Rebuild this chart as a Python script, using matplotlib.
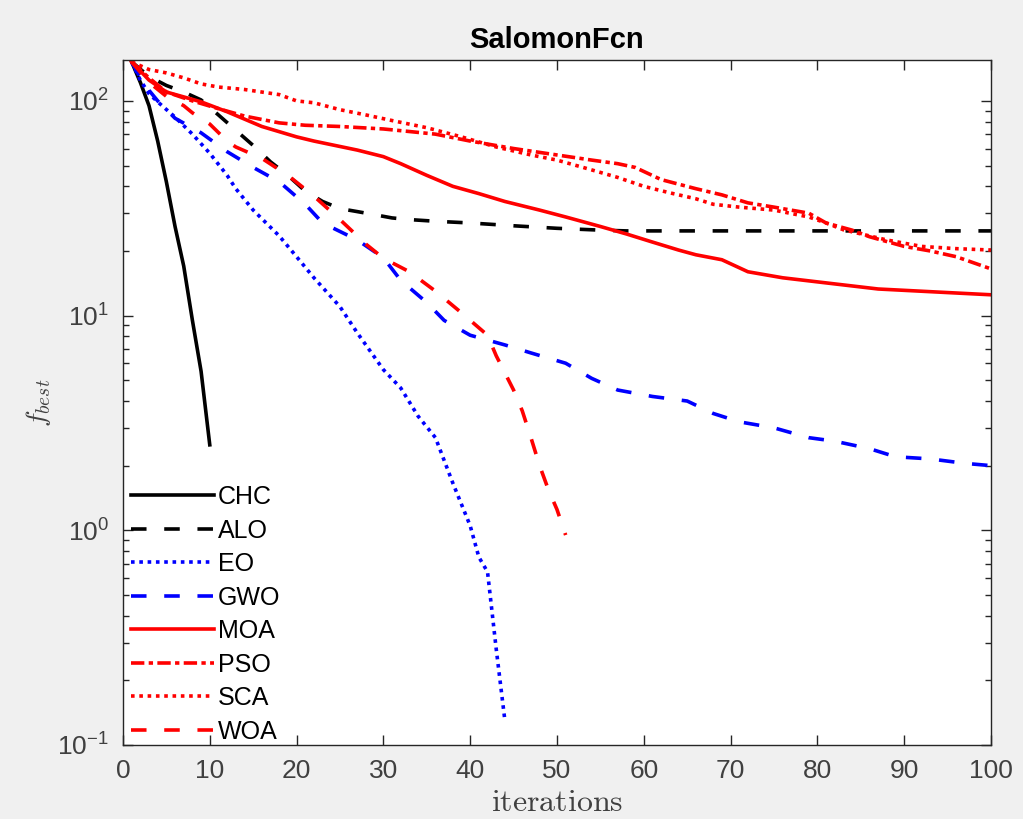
## convergence curves, SalomonFcn, log scale

import matplotlib
matplotlib.use("Agg")
import matplotlib.pyplot as plt
from matplotlib.ticker import LogLocator, NullFormatter, FixedLocator

plt.rcParams['font.family'] = ['Liberation Sans', 'DejaVu Sans']
plt.rcParams['mathtext.fontset'] = 'cm'

# values (iteration, best fitness)
chc_x = [1, 2, 3, 4, 5, 6, 7, 8, 9, 10]
chc_y = [152, 122, 95, 65, 42, 26, 17, 9.5, 5.5, 2.5]

alo_x = [1, 3, 5, 7, 9, 11, 13, 15, 17, 19, 21, 23, 25, 27, 29, 31, 33, 36, 40, 45, 50, 55, 58, 100]
alo_y = [152, 130, 118, 110, 101, 86, 73, 62, 52, 45, 38, 34, 31.5, 30.5, 29.5, 28.5, 28, 27.5, 27, 26.2, 25.5, 25, 24.8, 24.8]

eo_x = [1, 2, 3, 4, 6, 8, 10, 12, 13, 15, 18, 20, 22, 25, 27, 30, 32, 34, 36, 38, 40, 41, 42, 43, 44]
eo_y = [152, 125, 108, 99, 84, 70, 57, 45, 39, 31, 23.5, 18.8, 15, 11, 8.3, 5.6, 4.6, 3.4, 2.7, 1.66, 1.05, 0.75, 0.64, 0.28, 0.13]

gwo_x = [1, 2, 3, 4, 6, 9, 12, 15, 18, 21, 23, 27, 30, 32, 35, 37, 40, 44, 47, 51, 54, 57, 61, 65, 68, 71, 75, 79, 82, 86, 89, 93, 97, 100]
gwo_y = [152, 128, 112, 100, 83, 71, 58, 49, 42, 33, 27, 22.5, 18.6, 14.6, 11.5, 9.5, 8.1, 7.3, 6.7, 6.0, 5.1, 4.5, 4.2, 4.0, 3.5, 3.2, 3.0, 2.7, 2.6, 2.4, 2.2, 2.15, 2.05, 2.0]

moa_x = [1, 3, 5, 9, 12, 16, 20, 22, 27, 30, 32, 35, 38, 41, 44, 48, 51, 55, 58, 61, 64, 66, 69, 72, 76, 81, 87, 95, 100]
moa_y = [152, 125, 110, 99, 89, 76, 68, 65, 59, 55, 51, 45, 40, 37, 34, 31, 28.8, 26, 24, 22, 20.2, 19.2, 18.2, 16, 15, 14.2, 13.3, 12.8, 12.5]

pso_x = [1, 3, 5, 8, 11, 14, 18, 21, 25, 30, 33, 36, 40, 45, 50, 54, 57, 59, 62, 66, 69, 72, 75, 79, 81, 84, 86, 90, 93, 96, 100]
pso_y = [152, 128, 110, 100, 92, 85, 79, 77, 76, 74, 72, 70, 65, 60, 56, 53, 51, 49, 43, 39, 36.5, 33.5, 32, 30, 27, 25, 23.3, 21, 20, 18.8, 16.5]

sca_x = [1, 3, 5, 7, 9, 11, 14, 18, 20, 22, 25, 28, 31, 35, 39, 43, 47, 50, 53, 57, 60, 63, 66, 68, 71, 75, 79, 81, 83, 86, 88, 92, 96, 100]
sca_y = [152, 140, 135, 128, 120, 116, 113, 107, 100, 98, 91, 86, 81, 75, 68, 61, 56, 53, 49, 44, 40, 37.3, 35, 33, 32, 31, 28.8, 27, 25.1, 23.5, 22.5, 21, 20.5, 20.2]

woa_x = [1, 3, 5, 7, 8, 10, 12, 13, 16, 19, 22, 25, 28, 30, 33, 36, 39, 42, 43, 45, 46, 47, 48, 49, 50, 51]
woa_y = [152, 122, 105, 95, 88, 78, 65, 61, 54, 45, 36, 28, 21.5, 18.5, 16, 13, 10.3, 8.1, 6.5, 4.5, 3.6, 2.7, 2.0, 1.55, 1.25, 0.95]

x_ticks = [0, 10, 20, 30, 40, 50, 60, 70, 80, 90, 100]

dashed = (0, (4.3, 4.9))
dotted = (0, (1.0, 1.3))
dashdot = (0, (3.7, 1.2, 1.2, 1.2))

fig = plt.figure(figsize=(10.23, 8.19), dpi=100, facecolor='#f0f0f0')
ax = fig.add_axes([0.1202, 0.0904, 0.8485, 0.8363])

lw = 2.6
ax.plot(chc_x, chc_y, color='black', ls='-', lw=lw, label='CHC')
ax.plot(alo_x, alo_y, color='black', ls=dashed, lw=lw, label='ALO')
ax.plot(eo_x, eo_y, color='blue', ls=dotted, lw=lw, label='EO')
ax.plot(gwo_x, gwo_y, color='blue', ls=dashed, lw=lw, label='GWO')
ax.plot(moa_x, moa_y, color='red', ls='-', lw=lw, label='MOA')
ax.plot(pso_x, pso_y, color='red', ls=dashdot, lw=lw, label='PSO')
ax.plot(sca_x, sca_y, color='red', ls=dotted, lw=lw, label='SCA')
ax.plot(woa_x, woa_y, color='red', ls=dashed, lw=lw, label='WOA')

ax.set_yscale('log')
ax.set_xlim(0, 100)
ax.set_ylim(0.1, 155)
ax.xaxis.set_major_locator(FixedLocator(x_ticks))
ax.yaxis.set_major_locator(LogLocator(base=10, numticks=10))
ax.yaxis.set_minor_locator(LogLocator(base=10, subs=range(2, 10), numticks=20))
ax.yaxis.set_minor_formatter(NullFormatter())

for s in ax.spines.values():
    s.set_color('#262626')
    s.set_linewidth(1.0)
ax.tick_params(which='both', direction='in', top=True, right=True, color='#262626',
               labelcolor='#404040', labelsize=19)
ax.tick_params(which='major', length=7, width=1.0, pad=10)
ax.tick_params(which='minor', length=4, width=1.0)

ax.set_title('SalomonFcn', fontsize=21, fontweight='bold', color='black', pad=9)
ax.set_xlabel(r'$\mathrm{iterations}$', fontsize=23, color='#404040', labelpad=4)
ax.set_ylabel(r'$f_{best}$', fontsize=20, color='#404040', labelpad=3)

leg = ax.legend(loc='lower left', bbox_to_anchor=(0.008, 0.0), frameon=False,
                fontsize=18, handlelength=3.3, handletextpad=0.17,
                labelspacing=0.38, borderaxespad=0.0, borderpad=0.05)

fig.savefig('out.png', dpi=100, facecolor=fig.get_facecolor())
